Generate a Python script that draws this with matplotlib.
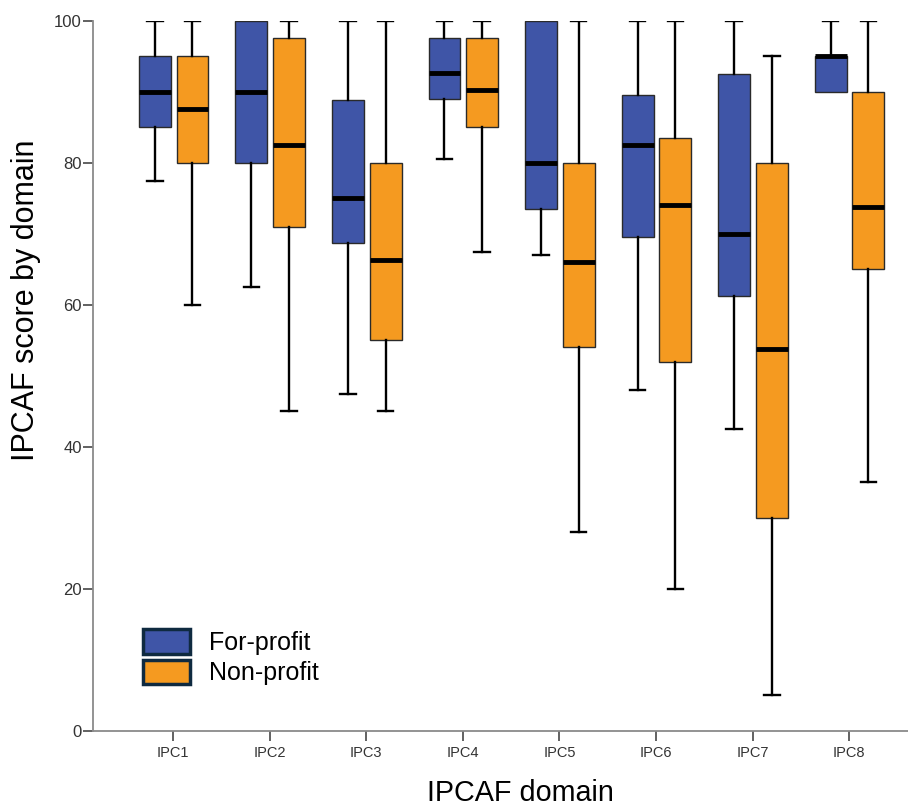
import matplotlib
matplotlib.use("Agg")
import matplotlib.pyplot as plt
from matplotlib.patches import Patch

plt.rcParams['font.family'] = ['Liberation Sans', 'DejaVu Sans']

domains = ["IPC1", "IPC2", "IPC3", "IPC4", "IPC5", "IPC6", "IPC7", "IPC8"]
groups = ["For-profit", "Non-profit"]

# For-profit: whisker low, Q1, median, Q3, whisker high
fp_low = [77.5, 62.5, 47.5, 80.5, 67.0, 48.0, 42.5, 90.0]
fp_q1 = [85.0, 80.0, 68.75, 89.0, 73.5, 69.5, 61.25, 90.0]
fp_med = [90.0, 90.0, 75.0, 92.7, 80.0, 82.5, 70.0, 95.0]
fp_q3 = [95.0, 100.0, 88.9, 97.5, 100.0, 89.5, 92.5, 95.0]
fp_high = [100.0, 100.0, 100.0, 100.0, 100.0, 100.0, 100.0, 100.0]

# Non-profit
np_low = [60.0, 45.0, 45.0, 67.5, 28.0, 20.0, 5.0, 35.0]
np_q1 = [80.0, 71.0, 55.0, 85.0, 54.0, 52.0, 30.0, 65.0]
np_med = [87.5, 82.5, 66.25, 90.3, 66.0, 74.0, 53.75, 73.75]
np_q3 = [95.0, 97.5, 80.0, 97.5, 80.0, 83.5, 80.0, 90.0]
np_high = [100.0, 100.0, 100.0, 100.0, 100.0, 100.0, 95.0, 100.0]

colors = ["#3F55A7", "#F59A20"]

fig = plt.figure(figsize=(9.08, 8.08), dpi=100)
ax = fig.add_axes([0.1024, 0.0953, 0.8976, 0.8791])

def stats(low, q1, med, q3, high):
    return [dict(whislo=a, q1=b, med=c, q3=d, whishi=e, fliers=[])
            for a, b, c, d, e in zip(low, q1, med, q3, high)]

series = [stats(fp_low, fp_q1, fp_med, fp_q3, fp_high),
          stats(np_low, np_q1, np_med, np_q3, np_high)]
offsets = [-0.19, 0.20]
for k, st in enumerate(series):
    pos = [i + 1 + offsets[k] for i in range(len(domains))]
    res = ax.bxp(st, positions=pos, widths=0.33, patch_artist=True, showfliers=False,
                 boxprops=dict(facecolor=colors[k], edgecolor="#2a2a2a", linewidth=1.0),
                 medianprops=dict(color="black", linewidth=3.5),
                 whiskerprops=dict(color="black", linewidth=1.7),
                 capprops=dict(color="black", linewidth=1.7),
                 capwidths=0.16, zorder=2)
    # hide caps where the whisker has zero length
    for j, s in enumerate(st):
        if s["whislo"] == s["q1"]:
            res["caps"][2 * j].set_visible(False)
        if s["whishi"] == s["q3"]:
            res["caps"][2 * j + 1].set_visible(False)

ax.set_xlim(0.17, 8.61)
ax.set_ylim(0, 100)
ax.set_xticks(range(1, len(domains) + 1))
ax.set_xticklabels(domains)
ax.set_yticks([0, 20, 40, 60, 80, 100])

for s in ["top", "right"]:
    ax.spines[s].set_visible(False)
for s in ["left", "bottom"]:
    ax.spines[s].set_color("#8a8a8a")
    ax.spines[s].set_linewidth(1.3)

ax.tick_params(axis="y", direction="out", length=7, width=1.3, color="#555555",
               labelsize=12, labelcolor="#333333", pad=1)
ax.tick_params(axis="x", direction="out", length=7, width=1.3, color="#555555",
               labelsize=10.5, labelcolor="#333333", pad=4)

ax.set_ylabel("IPCAF score by domain", fontsize=22)
ax.set_xlabel("IPCAF domain", fontsize=20.7, va="baseline")
ax.yaxis.set_label_coords(-0.064, 0.607)
ax.xaxis.set_label_coords(0.524, -0.099)

handles = [Patch(facecolor=colors[i], edgecolor="#0F2A40", linewidth=2.5, label=groups[i])
           for i in range(2)]
leg = ax.legend(handles=handles, loc="lower left", bbox_to_anchor=(0.049, 0.05),
                frameon=False, fontsize=18, handlelength=1.9, handleheight=1.15,
                handletextpad=0.75, labelspacing=0.2, borderaxespad=0)

fig.savefig("out.png", dpi=100)
